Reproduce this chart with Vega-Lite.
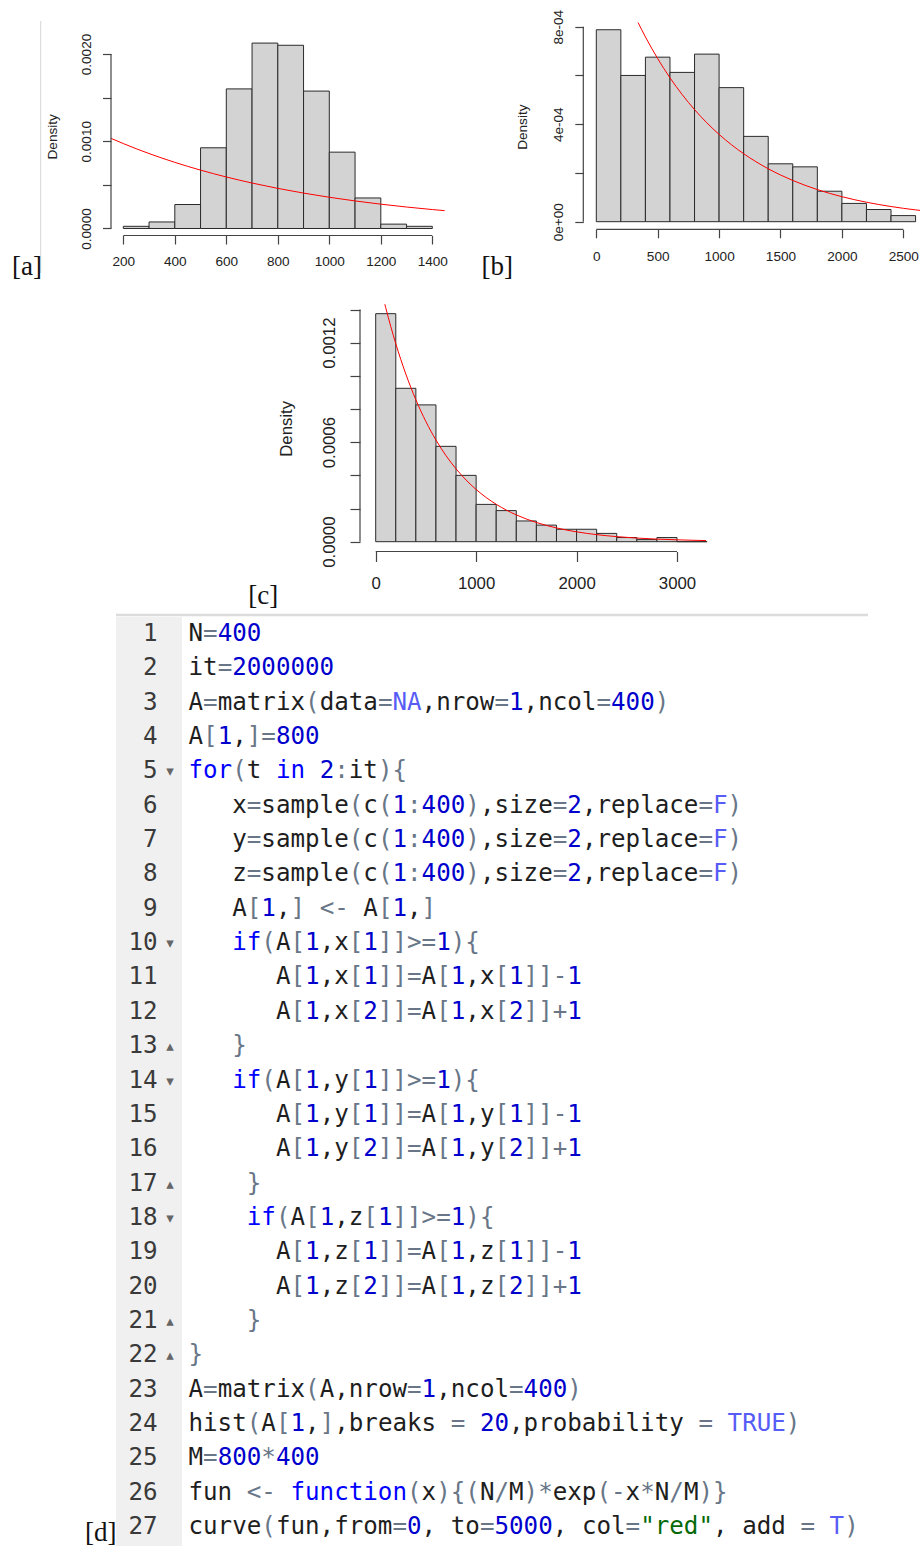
{
"$schema": "https://vega.github.io/schema/vega-lite/v6.json",
"width": 920, "height": 1549,
"autosize": {"type": "none"},
"padding": 0,
"background": "white",
"config": {
  "view": {"stroke": null},
  "axis": {"labelFont": "Liberation Sans", "titleFont": "Liberation Sans", "labelColor": "#222", "titleColor": "#222", "tickColor": "#444", "tickWidth": 1.2, "domain": false, "grid": false, "labelOverlap": false, "labelFlush": false, "titleFontWeight": "normal"}
},
"datasets": {
  "barsA": [{"x0":200,"x1":300,"d":0.000025},{"x0":300,"x1":400,"d":0.000075},{"x0":400,"x1":500,"d":0.000275},{"x0":500,"x1":600,"d":0.000925},{"x0":600,"x1":700,"d":0.0016},{"x0":700,"x1":800,"d":0.002125},{"x0":800,"x1":900,"d":0.0021},{"x0":900,"x1":1000,"d":0.001575},{"x0":1000,"x1":1100,"d":0.000875},{"x0":1100,"x1":1200,"d":0.00035},{"x0":1200,"x1":1300,"d":0.00005},{"x0":1300,"x1":1400,"d":0.000025}],
  "barsB": [{"x0":0,"x1":200,"d":0.0007875},{"x0":200,"x1":400,"d":0.0006},{"x0":400,"x1":600,"d":0.000675},{"x0":600,"x1":800,"d":0.0006125},{"x0":800,"x1":1000,"d":0.0006875},{"x0":1000,"x1":1200,"d":0.00055},{"x0":1200,"x1":1400,"d":0.00035},{"x0":1400,"x1":1600,"d":0.0002375},{"x0":1600,"x1":1800,"d":0.000225},{"x0":1800,"x1":2000,"d":0.000125},{"x0":2000,"x1":2200,"d":0.000075},{"x0":2200,"x1":2400,"d":0.00005},{"x0":2400,"x1":2600,"d":0.000025}],
  "barsC": [{"x0":0,"x1":200,"d":0.001375},{"x0":200,"x1":400,"d":0.000925},{"x0":400,"x1":600,"d":0.000825},{"x0":600,"x1":800,"d":0.000575},{"x0":800,"x1":1000,"d":0.0004},{"x0":1000,"x1":1200,"d":0.000225},{"x0":1200,"x1":1400,"d":0.0001875},{"x0":1400,"x1":1600,"d":0.000125},{"x0":1600,"x1":1800,"d":0.0001},{"x0":1800,"x1":2000,"d":0.000075},{"x0":2000,"x1":2200,"d":0.000075},{"x0":2200,"x1":2400,"d":0.00005},{"x0":2400,"x1":2600,"d":0.000025},{"x0":2600,"x1":2800,"d":0.0000125},{"x0":2800,"x1":3000,"d":0.000025},{"x0":3000,"x1":3200,"d":0},{"x0":3200,"x1":3300,"d":0}],
  "curveA": [{"x":152,"d":0.0010337},{"x":200,"d":0.00097350},{"x":300,"d":0.00085911},{"x":400,"d":0.00075816},{"x":500,"d":0.00066908},{"x":600,"d":0.00059046},{"x":700,"d":0.00052108},{"x":800,"d":0.00045985},{"x":900,"d":0.00040582},{"x":1000,"d":0.00035813},{"x":1100,"d":0.00031605},{"x":1200,"d":0.00027891},{"x":1300,"d":0.00024614},{"x":1400,"d":0.00021722},{"x":1448,"d":0.00020457}],
  "curveB": [{"x":340,"d":0.00081721},{"x":400,"d":0.00075816},{"x":500,"d":0.00066908},{"x":600,"d":0.00059046},{"x":700,"d":0.00052108},{"x":800,"d":0.00045985},{"x":900,"d":0.00040582},{"x":1000,"d":0.00035813},{"x":1100,"d":0.00031605},{"x":1200,"d":0.00027891},{"x":1300,"d":0.00024614},{"x":1400,"d":0.00021722},{"x":1500,"d":0.00019169},{"x":1600,"d":0.00016917},{"x":1700,"d":0.00014929},{"x":1800,"d":0.00013175},{"x":1900,"d":0.00011627},{"x":2000,"d":0.00010261},{"x":2100,"d":0.00009055},{"x":2200,"d":0.00007991},{"x":2300,"d":0.00007052},{"x":2400,"d":0.000062234},{"x":2500,"d":0.000054921},{"x":2600,"d":0.000048468},{"x":2636,"d":0.000046335}],
  "curveC": [{"x":91,"d":0.0014321},{"x":100,"d":0.0014108},{"x":200,"d":0.0011942},{"x":300,"d":0.0010109},{"x":400,"d":0.00085570},{"x":500,"d":0.00072433},{"x":600,"d":0.00061313},{"x":700,"d":0.00051901},{"x":800,"d":0.00043933},{"x":900,"d":0.00037188},{"x":1000,"d":0.00031479},{"x":1100,"d":0.00026647},{"x":1200,"d":0.00022556},{"x":1300,"d":0.00019093},{"x":1400,"d":0.00016162},{"x":1500,"d":0.00013681},{"x":1600,"d":0.00011581},{"x":1700,"d":0.000098027},{"x":1800,"d":0.000082978},{"x":1900,"d":0.00007024},{"x":2000,"d":0.000059457},{"x":2200,"d":0.000042602},{"x":2400,"d":0.000030527},{"x":2600,"d":0.000021873},{"x":2800,"d":0.000015673},{"x":3000,"d":0.00001123},{"x":3200,"d":0.0000080467},{"x":3289,"d":0.000006937}],
  "lineNums": [{"n":1},{"n":2},{"n":3},{"n":4},{"n":5},{"n":6},{"n":7},{"n":8},{"n":9},{"n":10},{"n":11},{"n":12},{"n":13},{"n":14},{"n":15},{"n":16},{"n":17},{"n":18},{"n":19},{"n":20},{"n":21},{"n":22},{"n":23},{"n":24},{"n":25},{"n":26},{"n":27}],
  "folds": [{"n":5,"m":"▾"},{"n":10,"m":"▾"},{"n":13,"m":"▴"},{"n":14,"m":"▾"},{"n":17,"m":"▴"},{"n":18,"m":"▾"},{"n":21,"m":"▴"},{"n":22,"m":"▴"}],
  "code": [
{"l":1,"c":0,"t":"N","k":"id"},{"l":1,"c":1,"t":"=","k":"op"},{"l":1,"c":2,"t":"400","k":"num"},
{"l":2,"c":0,"t":"it","k":"id"},{"l":2,"c":2,"t":"=","k":"op"},{"l":2,"c":3,"t":"2000000","k":"num"},
{"l":3,"c":0,"t":"A","k":"id"},{"l":3,"c":1,"t":"=","k":"op"},{"l":3,"c":2,"t":"matrix","k":"id"},{"l":3,"c":8,"t":"(","k":"op"},{"l":3,"c":9,"t":"data","k":"id"},{"l":3,"c":13,"t":"=","k":"op"},{"l":3,"c":14,"t":"NA","k":"const"},{"l":3,"c":16,"t":",nrow","k":"id"},{"l":3,"c":21,"t":"=","k":"op"},{"l":3,"c":22,"t":"1","k":"num"},{"l":3,"c":23,"t":",ncol","k":"id"},{"l":3,"c":28,"t":"=","k":"op"},{"l":3,"c":29,"t":"400","k":"num"},{"l":3,"c":32,"t":")","k":"op"},
{"l":4,"c":0,"t":"A","k":"id"},{"l":4,"c":1,"t":"[","k":"op"},{"l":4,"c":2,"t":"1","k":"num"},{"l":4,"c":3,"t":",","k":"id"},{"l":4,"c":4,"t":"]=","k":"op"},{"l":4,"c":6,"t":"800","k":"num"},
{"l":5,"c":0,"t":"for","k":"kw"},{"l":5,"c":3,"t":"(","k":"op"},{"l":5,"c":4,"t":"t","k":"id"},{"l":5,"c":6,"t":"in","k":"kw"},{"l":5,"c":9,"t":"2","k":"num"},{"l":5,"c":10,"t":":","k":"op"},{"l":5,"c":11,"t":"it","k":"id"},{"l":5,"c":13,"t":"){","k":"op"},
{"l":6,"c":3,"t":"x","k":"id"},{"l":6,"c":4,"t":"=","k":"op"},{"l":6,"c":5,"t":"sample","k":"id"},{"l":6,"c":11,"t":"(","k":"op"},{"l":6,"c":12,"t":"c","k":"id"},{"l":6,"c":13,"t":"(","k":"op"},{"l":6,"c":14,"t":"1","k":"num"},{"l":6,"c":15,"t":":","k":"op"},{"l":6,"c":16,"t":"400","k":"num"},{"l":6,"c":19,"t":")","k":"op"},{"l":6,"c":20,"t":",size","k":"id"},{"l":6,"c":25,"t":"=","k":"op"},{"l":6,"c":26,"t":"2","k":"num"},{"l":6,"c":27,"t":",replace","k":"id"},{"l":6,"c":35,"t":"=","k":"op"},{"l":6,"c":36,"t":"F","k":"const"},{"l":6,"c":37,"t":")","k":"op"},
{"l":7,"c":3,"t":"y","k":"id"},{"l":7,"c":4,"t":"=","k":"op"},{"l":7,"c":5,"t":"sample","k":"id"},{"l":7,"c":11,"t":"(","k":"op"},{"l":7,"c":12,"t":"c","k":"id"},{"l":7,"c":13,"t":"(","k":"op"},{"l":7,"c":14,"t":"1","k":"num"},{"l":7,"c":15,"t":":","k":"op"},{"l":7,"c":16,"t":"400","k":"num"},{"l":7,"c":19,"t":")","k":"op"},{"l":7,"c":20,"t":",size","k":"id"},{"l":7,"c":25,"t":"=","k":"op"},{"l":7,"c":26,"t":"2","k":"num"},{"l":7,"c":27,"t":",replace","k":"id"},{"l":7,"c":35,"t":"=","k":"op"},{"l":7,"c":36,"t":"F","k":"const"},{"l":7,"c":37,"t":")","k":"op"},
{"l":8,"c":3,"t":"z","k":"id"},{"l":8,"c":4,"t":"=","k":"op"},{"l":8,"c":5,"t":"sample","k":"id"},{"l":8,"c":11,"t":"(","k":"op"},{"l":8,"c":12,"t":"c","k":"id"},{"l":8,"c":13,"t":"(","k":"op"},{"l":8,"c":14,"t":"1","k":"num"},{"l":8,"c":15,"t":":","k":"op"},{"l":8,"c":16,"t":"400","k":"num"},{"l":8,"c":19,"t":")","k":"op"},{"l":8,"c":20,"t":",size","k":"id"},{"l":8,"c":25,"t":"=","k":"op"},{"l":8,"c":26,"t":"2","k":"num"},{"l":8,"c":27,"t":",replace","k":"id"},{"l":8,"c":35,"t":"=","k":"op"},{"l":8,"c":36,"t":"F","k":"const"},{"l":8,"c":37,"t":")","k":"op"},
{"l":9,"c":3,"t":"A","k":"id"},{"l":9,"c":4,"t":"[","k":"op"},{"l":9,"c":5,"t":"1","k":"num"},{"l":9,"c":6,"t":",","k":"id"},{"l":9,"c":7,"t":"]","k":"op"},{"l":9,"c":9,"t":"<-","k":"op"},{"l":9,"c":12,"t":"A","k":"id"},{"l":9,"c":13,"t":"[","k":"op"},{"l":9,"c":14,"t":"1","k":"num"},{"l":9,"c":15,"t":",","k":"id"},{"l":9,"c":16,"t":"]","k":"op"},
{"l":10,"c":3,"t":"if","k":"kw"},{"l":10,"c":5,"t":"(","k":"op"},{"l":10,"c":6,"t":"A","k":"id"},{"l":10,"c":7,"t":"[","k":"op"},{"l":10,"c":8,"t":"1","k":"num"},{"l":10,"c":9,"t":",x","k":"id"},{"l":10,"c":11,"t":"[","k":"op"},{"l":10,"c":12,"t":"1","k":"num"},{"l":10,"c":13,"t":"]]>=","k":"op"},{"l":10,"c":17,"t":"1","k":"num"},{"l":10,"c":18,"t":"){","k":"op"},
{"l":11,"c":6,"t":"A","k":"id"},{"l":11,"c":7,"t":"[","k":"op"},{"l":11,"c":8,"t":"1","k":"num"},{"l":11,"c":9,"t":",x","k":"id"},{"l":11,"c":11,"t":"[","k":"op"},{"l":11,"c":12,"t":"1","k":"num"},{"l":11,"c":13,"t":"]]=","k":"op"},{"l":11,"c":16,"t":"A","k":"id"},{"l":11,"c":17,"t":"[","k":"op"},{"l":11,"c":18,"t":"1","k":"num"},{"l":11,"c":19,"t":",x","k":"id"},{"l":11,"c":21,"t":"[","k":"op"},{"l":11,"c":22,"t":"1","k":"num"},{"l":11,"c":23,"t":"]]-","k":"op"},{"l":11,"c":26,"t":"1","k":"num"},
{"l":12,"c":6,"t":"A","k":"id"},{"l":12,"c":7,"t":"[","k":"op"},{"l":12,"c":8,"t":"1","k":"num"},{"l":12,"c":9,"t":",x","k":"id"},{"l":12,"c":11,"t":"[","k":"op"},{"l":12,"c":12,"t":"2","k":"num"},{"l":12,"c":13,"t":"]]=","k":"op"},{"l":12,"c":16,"t":"A","k":"id"},{"l":12,"c":17,"t":"[","k":"op"},{"l":12,"c":18,"t":"1","k":"num"},{"l":12,"c":19,"t":",x","k":"id"},{"l":12,"c":21,"t":"[","k":"op"},{"l":12,"c":22,"t":"2","k":"num"},{"l":12,"c":23,"t":"]]+","k":"op"},{"l":12,"c":26,"t":"1","k":"num"},
{"l":13,"c":3,"t":"}","k":"op"},
{"l":14,"c":3,"t":"if","k":"kw"},{"l":14,"c":5,"t":"(","k":"op"},{"l":14,"c":6,"t":"A","k":"id"},{"l":14,"c":7,"t":"[","k":"op"},{"l":14,"c":8,"t":"1","k":"num"},{"l":14,"c":9,"t":",y","k":"id"},{"l":14,"c":11,"t":"[","k":"op"},{"l":14,"c":12,"t":"1","k":"num"},{"l":14,"c":13,"t":"]]>=","k":"op"},{"l":14,"c":17,"t":"1","k":"num"},{"l":14,"c":18,"t":"){","k":"op"},
{"l":15,"c":6,"t":"A","k":"id"},{"l":15,"c":7,"t":"[","k":"op"},{"l":15,"c":8,"t":"1","k":"num"},{"l":15,"c":9,"t":",y","k":"id"},{"l":15,"c":11,"t":"[","k":"op"},{"l":15,"c":12,"t":"1","k":"num"},{"l":15,"c":13,"t":"]]=","k":"op"},{"l":15,"c":16,"t":"A","k":"id"},{"l":15,"c":17,"t":"[","k":"op"},{"l":15,"c":18,"t":"1","k":"num"},{"l":15,"c":19,"t":",y","k":"id"},{"l":15,"c":21,"t":"[","k":"op"},{"l":15,"c":22,"t":"1","k":"num"},{"l":15,"c":23,"t":"]]-","k":"op"},{"l":15,"c":26,"t":"1","k":"num"},
{"l":16,"c":6,"t":"A","k":"id"},{"l":16,"c":7,"t":"[","k":"op"},{"l":16,"c":8,"t":"1","k":"num"},{"l":16,"c":9,"t":",y","k":"id"},{"l":16,"c":11,"t":"[","k":"op"},{"l":16,"c":12,"t":"2","k":"num"},{"l":16,"c":13,"t":"]]=","k":"op"},{"l":16,"c":16,"t":"A","k":"id"},{"l":16,"c":17,"t":"[","k":"op"},{"l":16,"c":18,"t":"1","k":"num"},{"l":16,"c":19,"t":",y","k":"id"},{"l":16,"c":21,"t":"[","k":"op"},{"l":16,"c":22,"t":"2","k":"num"},{"l":16,"c":23,"t":"]]+","k":"op"},{"l":16,"c":26,"t":"1","k":"num"},
{"l":17,"c":4,"t":"}","k":"op"},
{"l":18,"c":4,"t":"if","k":"kw"},{"l":18,"c":6,"t":"(","k":"op"},{"l":18,"c":7,"t":"A","k":"id"},{"l":18,"c":8,"t":"[","k":"op"},{"l":18,"c":9,"t":"1","k":"num"},{"l":18,"c":10,"t":",z","k":"id"},{"l":18,"c":12,"t":"[","k":"op"},{"l":18,"c":13,"t":"1","k":"num"},{"l":18,"c":14,"t":"]]>=","k":"op"},{"l":18,"c":18,"t":"1","k":"num"},{"l":18,"c":19,"t":"){","k":"op"},
{"l":19,"c":6,"t":"A","k":"id"},{"l":19,"c":7,"t":"[","k":"op"},{"l":19,"c":8,"t":"1","k":"num"},{"l":19,"c":9,"t":",z","k":"id"},{"l":19,"c":11,"t":"[","k":"op"},{"l":19,"c":12,"t":"1","k":"num"},{"l":19,"c":13,"t":"]]=","k":"op"},{"l":19,"c":16,"t":"A","k":"id"},{"l":19,"c":17,"t":"[","k":"op"},{"l":19,"c":18,"t":"1","k":"num"},{"l":19,"c":19,"t":",z","k":"id"},{"l":19,"c":21,"t":"[","k":"op"},{"l":19,"c":22,"t":"1","k":"num"},{"l":19,"c":23,"t":"]]-","k":"op"},{"l":19,"c":26,"t":"1","k":"num"},
{"l":20,"c":6,"t":"A","k":"id"},{"l":20,"c":7,"t":"[","k":"op"},{"l":20,"c":8,"t":"1","k":"num"},{"l":20,"c":9,"t":",z","k":"id"},{"l":20,"c":11,"t":"[","k":"op"},{"l":20,"c":12,"t":"2","k":"num"},{"l":20,"c":13,"t":"]]=","k":"op"},{"l":20,"c":16,"t":"A","k":"id"},{"l":20,"c":17,"t":"[","k":"op"},{"l":20,"c":18,"t":"1","k":"num"},{"l":20,"c":19,"t":",z","k":"id"},{"l":20,"c":21,"t":"[","k":"op"},{"l":20,"c":22,"t":"2","k":"num"},{"l":20,"c":23,"t":"]]+","k":"op"},{"l":20,"c":26,"t":"1","k":"num"},
{"l":21,"c":4,"t":"}","k":"op"},
{"l":22,"c":0,"t":"}","k":"op"},
{"l":23,"c":0,"t":"A","k":"id"},{"l":23,"c":1,"t":"=","k":"op"},{"l":23,"c":2,"t":"matrix","k":"id"},{"l":23,"c":8,"t":"(","k":"op"},{"l":23,"c":9,"t":"A,nrow","k":"id"},{"l":23,"c":15,"t":"=","k":"op"},{"l":23,"c":16,"t":"1","k":"num"},{"l":23,"c":17,"t":",ncol","k":"id"},{"l":23,"c":22,"t":"=","k":"op"},{"l":23,"c":23,"t":"400","k":"num"},{"l":23,"c":26,"t":")","k":"op"},
{"l":24,"c":0,"t":"hist","k":"id"},{"l":24,"c":4,"t":"(","k":"op"},{"l":24,"c":5,"t":"A","k":"id"},{"l":24,"c":6,"t":"[","k":"op"},{"l":24,"c":7,"t":"1","k":"num"},{"l":24,"c":8,"t":",","k":"id"},{"l":24,"c":9,"t":"]","k":"op"},{"l":24,"c":10,"t":",breaks","k":"id"},{"l":24,"c":18,"t":"=","k":"op"},{"l":24,"c":20,"t":"20","k":"num"},{"l":24,"c":22,"t":",probability","k":"id"},{"l":24,"c":35,"t":"=","k":"op"},{"l":24,"c":37,"t":"TRUE","k":"const"},{"l":24,"c":41,"t":")","k":"op"},
{"l":25,"c":0,"t":"M","k":"id"},{"l":25,"c":1,"t":"=","k":"op"},{"l":25,"c":2,"t":"800","k":"num"},{"l":25,"c":5,"t":"*","k":"op"},{"l":25,"c":6,"t":"400","k":"num"},
{"l":26,"c":0,"t":"fun","k":"id"},{"l":26,"c":4,"t":"<-","k":"op"},{"l":26,"c":7,"t":"function","k":"kw"},{"l":26,"c":15,"t":"(","k":"op"},{"l":26,"c":16,"t":"x","k":"id"},{"l":26,"c":17,"t":"){(","k":"op"},{"l":26,"c":20,"t":"N","k":"id"},{"l":26,"c":21,"t":"/","k":"op"},{"l":26,"c":22,"t":"M","k":"id"},{"l":26,"c":23,"t":")*","k":"op"},{"l":26,"c":25,"t":"exp","k":"id"},{"l":26,"c":28,"t":"(-","k":"op"},{"l":26,"c":30,"t":"x","k":"id"},{"l":26,"c":31,"t":"*","k":"op"},{"l":26,"c":32,"t":"N","k":"id"},{"l":26,"c":33,"t":"/","k":"op"},{"l":26,"c":34,"t":"M","k":"id"},{"l":26,"c":35,"t":")}","k":"op"},
{"l":27,"c":0,"t":"curve","k":"id"},{"l":27,"c":5,"t":"(","k":"op"},{"l":27,"c":6,"t":"fun,from","k":"id"},{"l":27,"c":14,"t":"=","k":"op"},{"l":27,"c":15,"t":"0","k":"num"},{"l":27,"c":16,"t":",","k":"id"},{"l":27,"c":18,"t":"to","k":"id"},{"l":27,"c":20,"t":"=","k":"op"},{"l":27,"c":21,"t":"5000","k":"num"},{"l":27,"c":25,"t":",","k":"id"},{"l":27,"c":27,"t":"col","k":"id"},{"l":27,"c":30,"t":"=","k":"op"},{"l":27,"c":31,"t":"\"red\"","k":"str"},{"l":27,"c":36,"t":",","k":"id"},{"l":27,"c":38,"t":"add","k":"id"},{"l":27,"c":42,"t":"=","k":"op"},{"l":27,"c":44,"t":"T","k":"const"},{"l":27,"c":45,"t":")","k":"op"}
  ]
},
"layer": [
  {
    "layer": [
      {"data": {"name": "barsA"}, "mark": {"type": "rect", "fill": "#D3D3D3", "stroke": "#2a2a2a", "strokeWidth": 1},
       "encoding": {
         "x": {"field": "x0", "type": "quantitative", "scale": {"domain": [-278.83, 3293.99], "nice": false, "zero": false},
               "axis": {"orient": "bottom", "offset": -1313.5, "values": [200,400,600,800,1000,1200,1400], "format": "d", "tickSize": 8.5, "labelPadding": 17.7, "labelBaseline": "middle", "labelAlign": "center", "labelFontSize": 13.6, "title": null}},
         "x2": {"field": "x1"},
         "y": {"field": "d", "type": "quantitative", "scale": {"domain": [-0.01513467, 0.00261891], "nice": false, "zero": false},
               "axis": {"orient": "left", "offset": -111, "values": [0,0.0005,0.001,0.0015,0.002], "labelExpr": "round(datum.value*10000) % 10 == 0 ? format(datum.value, '.4f') : ''", "labelAngle": -90, "labelAlign": "center", "labelBaseline": "middle", "tickSize": 8.5, "labelPadding": 15.8, "labelFontSize": 13.6, "title": "Density", "titleX": -58.5, "titleY": 136.3, "titleAngle": -90, "titleAlign": "center", "titleBaseline": "middle", "titleFontSize": 13.6}},
         "y2": {"datum": 0}
       }},
      {"data": {"name": "curveA"}, "mark": {"type": "line", "color": "#FF0000", "strokeWidth": 1, "interpolate": "monotone"},
       "encoding": {
         "x": {"field": "x", "type": "quantitative", "scale": {"domain": [-278.83, 3293.99], "nice": false, "zero": false}},
         "y": {"field": "d", "type": "quantitative", "scale": {"domain": [-0.01513467, 0.00261891], "nice": false, "zero": false}}
       }},
      {"data": {"values": [{}]}, "mark": {"type": "rule", "color": "#444", "strokeWidth": 1.2},
       "encoding": {
         "x": {"datum": 200, "type": "quantitative", "scale": {"domain": [-278.83, 3293.99], "nice": false, "zero": false}},
         "x2": {"datum": 1400},
         "y": {"datum": -0.0000802, "type": "quantitative", "scale": {"domain": [-0.01513467, 0.00261891], "nice": false, "zero": false}}
       }},
      {"data": {"values": [{}]}, "mark": {"type": "rule", "color": "#444", "strokeWidth": 1.2},
       "encoding": {
         "x": {"datum": 152.23, "type": "quantitative", "scale": {"domain": [-278.83, 3293.99], "nice": false, "zero": false}},
         "y": {"datum": 0, "type": "quantitative", "scale": {"domain": [-0.01513467, 0.00261891], "nice": false, "zero": false}},
         "y2": {"datum": 0.002}
       }}
    ]
  },
  {
    "layer": [
      {"data": {"name": "barsB"}, "mark": {"type": "rect", "fill": "#D3D3D3", "stroke": "#2a2a2a", "strokeWidth": 1},
       "encoding": {
         "x": {"field": "x0", "type": "quantitative", "scale": {"domain": [-4855.86, 2636.0], "nice": false, "zero": false},
               "axis": {"orient": "bottom", "offset": -1319.7, "values": [0,500,1000,1500,2000,2500], "format": "d", "tickSize": 8.5, "labelPadding": 18.9, "labelBaseline": "middle", "labelAlign": "center", "labelFontSize": 13.6, "title": null}},
         "x2": {"field": "x1"},
         "y": {"field": "d", "type": "quantitative", "scale": {"domain": [-0.00544533, 0.00090954], "nice": false, "zero": false},
               "axis": {"orient": "left", "offset": -583.3, "values": [0,0.0002,0.0004,0.0006,0.0008], "labelExpr": "round(datum.value*10000) == 0 ? '0e+00' : round(datum.value*10000) == 4 ? '4e-04' : round(datum.value*10000) == 8 ? '8e-04' : ''", "labelAngle": -90, "labelAlign": "center", "labelBaseline": "middle", "tickSize": 8.5, "labelPadding": 16.5, "labelFontSize": 13.6, "title": "Density", "titleX": -60.8, "titleY": 126.7, "titleAngle": -90, "titleAlign": "center", "titleBaseline": "middle", "titleFontSize": 13.6}},
         "y2": {"datum": 0}
       }},
      {"data": {"name": "curveB"}, "mark": {"type": "line", "color": "#FF0000", "strokeWidth": 1, "interpolate": "monotone"},
       "encoding": {
         "x": {"field": "x", "type": "quantitative", "scale": {"domain": [-4855.86, 2636.0], "nice": false, "zero": false}},
         "y": {"field": "d", "type": "quantitative", "scale": {"domain": [-0.00544533, 0.00090954], "nice": false, "zero": false}}
       }},
      {"data": {"values": [{}]}, "mark": {"type": "rule", "color": "#444", "strokeWidth": 1.2},
       "encoding": {
         "x": {"datum": 0, "type": "quantitative", "scale": {"domain": [-4855.86, 2636.0], "nice": false, "zero": false}},
         "x2": {"datum": 2500},
         "y": {"datum": -0.00003118, "type": "quantitative", "scale": {"domain": [-0.00544533, 0.00090954], "nice": false, "zero": false}}
       }},
      {"data": {"values": [{}]}, "mark": {"type": "rule", "color": "#444", "strokeWidth": 1.2},
       "encoding": {
         "x": {"datum": -105.9, "type": "quantitative", "scale": {"domain": [-4855.86, 2636.0], "nice": false, "zero": false}},
         "y": {"datum": 0, "type": "quantitative", "scale": {"domain": [-0.00544533, 0.00090954], "nice": false, "zero": false}},
         "y2": {"datum": 0.0008}
       }}
    ]
  },
  {
    "layer": [
      {"data": {"name": "barsC"}, "mark": {"type": "rect", "fill": "#D3D3D3", "stroke": "#2a2a2a", "strokeWidth": 1},
       "encoding": {
         "x": {"field": "x0", "type": "quantitative", "scale": {"domain": [-3740.9, 5419.7], "nice": false, "zero": false},
               "axis": {"orient": "bottom", "offset": -997.5, "values": [0,1000,2000,3000], "format": "d", "tickSize": 10, "labelPadding": 21.8, "labelBaseline": "middle", "labelAlign": "center", "labelFontSize": 16.8, "title": null}},
         "x2": {"field": "x1"},
         "y": {"field": "d", "type": "quantitative", "scale": {"domain": [-0.0060742, 0.0032665], "nice": false, "zero": false},
               "axis": {"orient": "left", "offset": -360, "values": [0,0.0002,0.0004,0.0006,0.0008,0.001,0.0012,0.0014], "labelExpr": "round(datum.value*10000) % 6 == 0 ? format(datum.value, '.4f') : ''", "labelAngle": -90, "labelAlign": "center", "labelBaseline": "middle", "tickSize": 10, "labelPadding": 20.8, "labelFontSize": 16.8, "title": "Density", "titleX": -73.3, "titleY": 428.3, "titleAngle": -90, "titleAlign": "center", "titleBaseline": "middle", "titleFontSize": 16.8}},
         "y2": {"datum": 0}
       }},
      {"data": {"name": "curveC"}, "mark": {"type": "line", "color": "#FF0000", "strokeWidth": 1, "interpolate": "monotone"},
       "encoding": {
         "x": {"field": "x", "type": "quantitative", "scale": {"domain": [-3740.9, 5419.7], "nice": false, "zero": false}},
         "y": {"field": "d", "type": "quantitative", "scale": {"domain": [-0.0060742, 0.0032665], "nice": false, "zero": false}}
       }},
      {"data": {"values": [{}]}, "mark": {"type": "rule", "color": "#444", "strokeWidth": 1.2},
       "encoding": {
         "x": {"datum": 0, "type": "quantitative", "scale": {"domain": [-3740.9, 5419.7], "nice": false, "zero": false}},
         "x2": {"datum": 3000},
         "y": {"datum": -0.0000591, "type": "quantitative", "scale": {"domain": [-0.0060742, 0.0032665], "nice": false, "zero": false}}
       }},
      {"data": {"values": [{}]}, "mark": {"type": "rule", "color": "#444", "strokeWidth": 1.2},
       "encoding": {
         "x": {"datum": -156.3, "type": "quantitative", "scale": {"domain": [-3740.9, 5419.7], "nice": false, "zero": false}},
         "y": {"datum": 0, "type": "quantitative", "scale": {"domain": [-0.0060742, 0.0032665], "nice": false, "zero": false}},
         "y2": {"datum": 0.0014}
       }}
    ]
  },
  {
    "layer": [
      {"data": {"values": [{}]}, "mark": {"type": "rect", "color": "#f0f0f0"},
       "encoding": {
         "x": {"datum": -4.976, "type": "quantitative", "scale": {"domain": [-12.9376, 50.2059], "nice": false, "zero": false}, "axis": null},
         "x2": {"datum": -0.4461},
         "y": {"datum": 0.5051, "type": "quantitative", "scale": {"domain": [-17.4571, 27.6376], "nice": false, "zero": false, "reverse": true}, "axis": null},
         "y2": {"datum": 27.5502}
       }},
      {"data": {"values": [{}]}, "mark": {"type": "rule", "color": "#dcdcdc", "strokeWidth": 2.5},
       "encoding": {
         "x": {"datum": -4.976, "type": "quantitative", "scale": {"domain": [-12.9376, 50.2059], "nice": false, "zero": false}, "axis": null},
         "x2": {"datum": 46.6369},
         "y": {"datum": 0.4469, "type": "quantitative", "scale": {"domain": [-17.4571, 27.6376], "nice": false, "zero": false, "reverse": true}, "axis": null}
       }},
      {"data": {"values": [{}]}, "mark": {"type": "rule", "color": "#d6d6d6", "strokeWidth": 1},
       "encoding": {
         "x": {"datum": -10.1441, "type": "quantitative", "scale": {"domain": [-12.9376, 50.2059], "nice": false, "zero": false}, "axis": null},
         "y": {"datum": -16.8457, "type": "quantitative", "scale": {"domain": [-17.4571, 27.6376], "nice": false, "zero": false, "reverse": true}, "axis": null},
         "y2": {"datum": -9.5095}
       }},
      {"data": {"name": "lineNums"}, "mark": {"type": "text", "font": "DejaVu Sans Mono", "fontSize": 24.2, "align": "right", "baseline": "middle", "color": "#3a3a3a"},
       "encoding": {
         "x": {"datum": -2.1277, "type": "quantitative", "scale": {"domain": [-12.9376, 50.2059], "nice": false, "zero": false}, "axis": null},
         "y": {"field": "n", "type": "quantitative", "scale": {"domain": [-17.4571, 27.6376], "nice": false, "zero": false, "reverse": true}, "axis": null},
         "text": {"field": "n", "type": "nominal"}
       }},
      {"data": {"name": "folds"}, "mark": {"type": "text", "font": "DejaVu Sans", "fontSize": 15, "align": "center", "baseline": "middle", "color": "#666666"},
       "encoding": {
         "x": {"datum": -1.2697, "type": "quantitative", "scale": {"domain": [-12.9376, 50.2059], "nice": false, "zero": false}, "axis": null},
         "y": {"field": "n", "type": "quantitative", "scale": {"domain": [-17.4571, 27.6376], "nice": false, "zero": false, "reverse": true}, "axis": null},
         "text": {"field": "m", "type": "nominal"}
       }},
      {"data": {"name": "code"}, "mark": {"type": "text", "font": "DejaVu Sans Mono", "fontSize": 24.2, "align": "left", "baseline": "middle"},
       "encoding": {
         "x": {"field": "c", "type": "quantitative", "scale": {"domain": [-12.9376, 50.2059], "nice": false, "zero": false}, "axis": null},
         "y": {"field": "l", "type": "quantitative", "scale": {"domain": [-17.4571, 27.6376], "nice": false, "zero": false, "reverse": true}, "axis": null},
         "text": {"field": "t", "type": "nominal"},
         "color": {"field": "k", "type": "nominal", "scale": {"domain": ["id","op","num","kw","const","str"], "range": ["#1e1e1e","#687687","#0000CD","#0000FF","#585CF6","#036A07"]}, "legend": null}
       }},
      {"data": {"values": [{"label": "[a]"}]}, "mark": {"type": "text", "font": "Liberation Serif", "fontSize": 27, "align": "left", "baseline": "middle", "color": "#111"},
       "encoding": {
         "x": {"datum": -12.1139, "type": "quantitative", "scale": {"domain": [-12.9376, 50.2059], "nice": false, "zero": false}, "axis": null},
         "y": {"datum": -9.6987, "type": "quantitative", "scale": {"domain": [-17.4571, 27.6376], "nice": false, "zero": false, "reverse": true}, "axis": null},
         "text": {"field": "label", "type": "nominal"}
       }},
      {"data": {"values": [{"label": "[b]"}]}, "mark": {"type": "text", "font": "Liberation Serif", "fontSize": 27, "align": "left", "baseline": "middle", "color": "#111"},
       "encoding": {
         "x": {"datum": 20.1098, "type": "quantitative", "scale": {"domain": [-12.9376, 50.2059], "nice": false, "zero": false}, "axis": null},
         "y": {"datum": -9.6987, "type": "quantitative", "scale": {"domain": [-17.4571, 27.6376], "nice": false, "zero": false, "reverse": true}, "axis": null},
         "text": {"field": "label", "type": "nominal"}
       }},
      {"data": {"values": [{"label": "[c]"}]}, "mark": {"type": "text", "font": "Liberation Serif", "fontSize": 27, "align": "left", "baseline": "middle", "color": "#111"},
       "encoding": {
         "x": {"datum": 4.1043, "type": "quantitative", "scale": {"domain": [-12.9376, 50.2059], "nice": false, "zero": false}, "axis": null},
         "y": {"datum": -0.1121, "type": "quantitative", "scale": {"domain": [-17.4571, 27.6376], "nice": false, "zero": false, "reverse": true}, "axis": null},
         "text": {"field": "label", "type": "nominal"}
       }},
      {"data": {"values": [{"label": "[d]"}]}, "mark": {"type": "text", "font": "Liberation Serif", "fontSize": 27, "align": "left", "baseline": "middle", "color": "#111"},
       "encoding": {
         "x": {"datum": -7.1036, "type": "quantitative", "scale": {"domain": [-12.9376, 50.2059], "nice": false, "zero": false}, "axis": null},
         "y": {"datum": 27.1718, "type": "quantitative", "scale": {"domain": [-17.4571, 27.6376], "nice": false, "zero": false, "reverse": true}, "axis": null},
         "text": {"field": "label", "type": "nominal"}
       }}
    ]
  }
],
"resolve": {"scale": {"x": "independent", "y": "independent"}, "axis": {"x": "independent", "y": "independent"}}
}
